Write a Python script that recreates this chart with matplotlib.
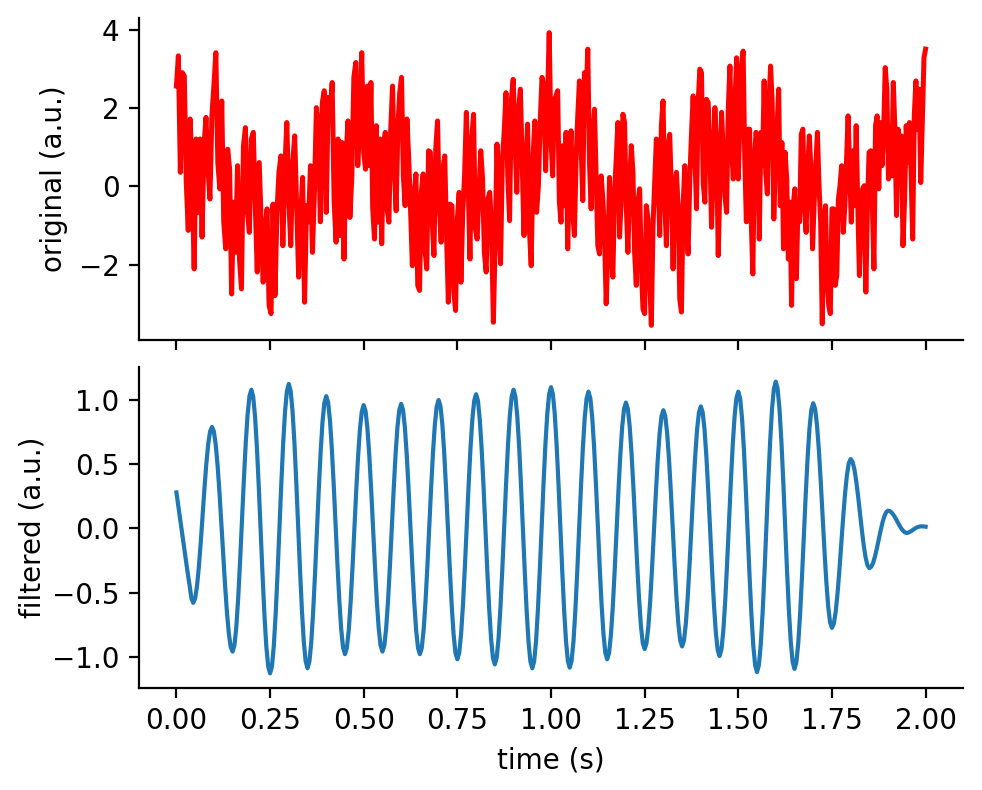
import numpy as np
import matplotlib
matplotlib.use("Agg")
import matplotlib.pyplot as plt

# ---------------- data ----------------
# original signal, four half-second segments (values in a.u.)
orig_seg1 = [2.56, 3.33, 0.36, 2.90, 2.82, 0.10, -1.12, 1.72, 0.19, -2.10,
             1.21, -0.66, 1.21, -1.29, 1.04, 1.76, 0.44, -0.32, 1.80, 2.56,
             3.41, 0.61, -0.06, 2.18, -0.90, -1.59, 0.95, 0.44, -2.74, -0.40,
             -1.68, 0.53, -1.85, -2.61, 1.04, 1.50, -0.66, -1.17, 1.21, 1.38,
             -0.49, -2.18, 0.61, -0.90, -2.44, -1.08, -0.57, -3.03, -3.24, -0.45,
             -2.78, -0.66, 0.36, 0.78, -1.51, 0.44, 1.63, -0.32, -1.51, 0.61,
             1.29, -0.49, -2.31, -0.83, 0.23, -2.95, -0.49, -0.90, 0.53, -1.68,
             -0.15, 2.01, 1.46, -0.90, 2.14, 2.44, -0.66, 2.27, 1.80, 2.65,
             -0.40, -1.42, 1.21, -1.25, 1.12, -1.85, 0.70, 1.67, -0.79, 0.27,
             2.78, 3.16, 0.53, 1.72, 3.41]
orig_seg2 = [0.87, 0.44, 2.56, 0.53, 2.65, -0.57, -1.34, 1.55, -0.91, 1.21,
             -1.46, 1.04, 1.38, -0.57, -0.91, 1.46, 2.56, 0.44, -0.62, 1.55,
             2.39, 2.78, 0.27, -0.49, 1.72, 0.70, -0.57, -2.02, -0.23, 0.32,
             -2.52, -2.65, -0.15, 0.32, -1.59, -2.10, 0.91, 0.87, -0.83, -1.76,
             0.95, 1.67, -0.49, -1.42, 0.44, 0.78, -1.25, -2.95, -0.45, -0.49,
             -2.65, -3.16, -0.83, -0.15, -2.44, -0.66, 0.27, 1.89, 0.10, -1.85,
             1.21, 1.84, -1.08, -1.34, -0.15, 0.91, 0.19, -1.68, -2.18, -0.32,
             -0.15, -1.08, -3.46, -1.42, 1.08, -0.66, -1.97, 0.70, 1.38, 2.39,
             0.27, -0.87, 2.22, 2.73, 1.21, -0.15, 1.97, 2.48, 0.61, -1.25,
             0.53, 1.59, -1.08, -2.02, 0.70, 1.67, -0.66, 0.02, 1.63, 2.78,
             2.56, 0.40, 2.06, 3.92]
orig_seg3 = [1.21, 0.27, 2.22, 2.31, 2.44, -0.40, -0.91, 1.04, -0.49, 1.38,
             -1.59, 0.53, 1.42, -0.66, -1.25, 0.70, 1.80, 2.69, 1.04, -0.36,
             2.90, 2.31, 3.50, 0.61, -0.57, 1.29, 1.97, 0.19, -1.51, -1.72,
             0.27, -0.32, -1.25, -2.99, -1.68, 0.23, -1.59, -2.31, -0.15, 0.70,
             1.63, -1.29, -0.32, 1.84, 1.63, -0.49, -1.68, 0.02, 1.04, 0.36,
             -1.68, -2.52, -0.40, -0.06, -2.02, -3.12, -3.24, -0.49, -0.83, -2.35,
             -3.54, -1.00, 0.10, 1.21, 0.44, -1.25, 1.55, 2.18, -0.32, -1.51,
             1.04, 1.33, -0.15, -2.10, -0.06, 0.36, -0.49, -2.86, -3.20, -0.49,
             0.53, -1.00, -1.72, 0.19, 1.33, 2.31, 0.87, -0.57, 2.14, 2.99,
             2.90, 0.10, -0.40, 2.22, 2.14, 0.95, -1.04, 0.44, 2.01, 1.04,
             -1.76, 0.02, 1.89, 0.87, -0.23, -0.66, 1.97, 3.07, 1.04, 0.19,
             2.14, 3.28]
orig_seg4 = [0.19, 1.72, 3.07, 3.45, 0.70, -0.90, 1.46, 1.46, -0.83, -2.23,
             0.70, 1.38, 1.04, -1.34, 1.38, 0.53, 2.69, 0.36, -0.19, 2.14,
             3.07, 2.14, -0.83, 0.61, 1.46, 2.48, -0.49, 1.12, -1.59, 0.87,
             0.19, -1.85, -0.40, -3.03, -0.49, -0.06, -2.35, -0.40, -0.90, 1.33,
             1.46, -0.49, -1.17, 0.44, 1.29, 0.44, -1.59, -0.40, 0.53, 1.38,
             0.02, -0.91, -3.50, -1.17, -0.49, -2.35, -3.03, -3.24, -0.57, -0.57,
             -2.52, -2.27, -0.32, 0.02, 0.53, -1.17, -0.49, 0.61, 1.80, 0.36,
             -0.91, 0.91, -0.49, 1.55, -0.49, -2.27, -0.83, -0.06, 0.02, -2.69,
             -0.49, 0.87, 0.91, -0.40, -2.10, 1.55, 1.80, -0.06, 1.63, 0.53,
             1.38, 3.03, 2.48, 0.19, 1.21, 0.27, 2.65, 1.46, -0.74, 1.46,
             0.36, 1.29, -1.51, -0.32, 1.55, 0.61, 1.63, 0.36, -1.34, 1.80,
             2.69, 1.46, 2.48, 0.10, 1.72, 3.28, 3.50]
seg_edges = [0.0, 0.5, 1.0, 1.5, 2.0]

# filtered signal, sampled every 5 ms from 0 to 2 s
filtered = [
    0.28, 0.175, 0.07, -0.035, -0.14, -0.245, -0.345, -0.44, -0.545, -0.58,
    -0.546, -0.449, -0.298, -0.107, 0.105, 0.317, 0.508, 0.659, 0.756, 0.79,
    0.755, 0.651, 0.488, 0.278, 0.040, -0.210, -0.448, -0.658, -0.821, -0.925, -0.96,
    -0.910, -0.765, -0.540, -0.255, 0.060, 0.375, 0.660, 0.885, 1.030, 1.08,
    1.026, 0.869, 0.625, 0.316, -0.025, -0.366, -0.675, -0.919, -1.076, -1.13,
    -1.075, -0.915, -0.666, -0.351, -0.003, 0.346, 0.661, 0.910, 1.070, 1.125,
    1.071, 0.914, 0.669, 0.360, 0.018, -0.325, -0.634, -0.879, -1.036, -1.09,
    -1.038, -0.888, -0.653, -0.358, -0.030, 0.298, 0.593, 0.828, 0.978, 1.03,
    0.981, 0.838, 0.616, 0.336, 0.025, -0.286, -0.566, -0.788, -0.931, -0.98,
    -0.932, -0.795, -0.580, -0.310, -0.010, 0.290, 0.560, 0.775, 0.912, 0.96,
    0.913, 0.777, 0.564, 0.297, 0.0, -0.297, -0.564, -0.777, -0.913, -0.96,
    -0.913, -0.776, -0.562, -0.293, 0.005, 0.303, 0.572, 0.786, 0.923, 0.97,
    0.922, 0.784, 0.568, 0.296, -0.005, -0.306, -0.578, -0.794, -0.932, -0.98,
    -0.931, -0.791, -0.572, -0.296, 0.010, 0.316, 0.592, 0.811, 0.951, 1.00,
    0.951, 0.807, 0.584, 0.302, -0.010, -0.322, -0.604, -0.827, -0.971, -1.02,
    -0.970, -0.823, -0.595, -0.307, 0.013, 0.332, 0.620, 0.848, 0.995, 1.045,
    0.994, 0.844, 0.612, 0.318, -0.008, -0.333, -0.627, -0.859, -1.009, -1.06,
    -1.008, -0.856, -0.619, -0.321, 0.010, 0.341, 0.639, 0.876, 1.028, 1.08,
    1.027, 0.873, 0.633, 0.330, -0.005, -0.340, -0.643, -0.883, -1.037, -1.09,
    -1.036, -0.881, -0.639, -0.333, 0.005, 0.343, 0.649, 0.891, 1.046, 1.10,
    1.047, 0.892, 0.650, 0.346, 0.008, -0.330, -0.635, -0.876, -1.032, -1.085,
    -1.032, -0.880, -0.642, -0.342, -0.010, 0.322, 0.622, 0.860, 1.012, 1.065,
    1.014, 0.866, 0.636, 0.345, 0.023, -0.300, -0.591, -0.821, -0.969, -1.02,
    -0.971, -0.829, -0.608, -0.329, -0.020, 0.289, 0.568, 0.789, 0.931, 0.98,
    0.933, 0.797, 0.584, 0.317, 0.020, -0.277, -0.544, -0.757, -0.893, -0.94,
    -0.894, -0.762, -0.557, -0.297, -0.010, 0.277, 0.537, 0.742, 0.874, 0.92,
    0.875, 0.744, 0.541, 0.284, 0.0, -0.284, -0.541, -0.744, -0.875, -0.92,
    -0.874, -0.741, -0.535, -0.274, 0.015, 0.304, 0.565, 0.771, 0.904, 0.95,
    0.903, 0.765, 0.550, 0.279, -0.023, -0.324, -0.595, -0.810, -0.948, -0.995,
    -0.945, -0.798, -0.571, -0.283, 0.035, 0.353, 0.641, 0.868, 1.015, 1.065,
    1.012, 0.857, 0.615, 0.311, -0.028, -0.366, -0.670, -0.912, -1.067, -1.12,
    -1.065, -0.904, -0.654, -0.339, 0.012, 0.362, 0.677, 0.927, 1.088, 1.143,
    1.088, 0.929, 0.682, 0.370, 0.024, -0.322, -0.634, -0.881, -1.040, -1.095,
    -1.044, -0.897, -0.669, -0.380, -0.060, 0.260, 0.549, 0.777, 0.924, 0.975,
    0.932, 0.808, 0.615, 0.370, 0.100, -0.170, -0.415, -0.608, -0.732, -0.775,
    -0.743, -0.650, -0.505, -0.321, -0.118, 0.086, 0.270, 0.415, 0.508, 0.54,
    0.519, 0.459, 0.365, 0.246, 0.115, -0.016, -0.135, -0.229, -0.289, -0.31,
    -0.299, -0.267, -0.218, -0.155, -0.086, -0.017, 0.046, 0.095, 0.127, 0.138,
    0.134, 0.121, 0.102, 0.078, 0.051, 0.024, 0.0, -0.019, -0.032, -0.036,
    -0.032, -0.024, -0.014, -0.004, 0.005, 0.011, 0.015, 0.016, 0.015, 0.013,
]
t_start, t_end = 0.0, 2.0

# ---------------- build time axes ----------------
segs = [orig_seg1, orig_seg2, orig_seg3, orig_seg4]
t_orig = []
y_orig = []
for i, s in enumerate(segs):
    last = (i == len(segs) - 1)
    t_orig.append(np.linspace(seg_edges[i], seg_edges[i + 1], len(s), endpoint=last))
    y_orig.extend(s)
t_orig = np.concatenate(t_orig)
y_orig = np.array(y_orig)

t_filt = np.linspace(t_start, t_end, len(filtered))
y_filt = np.array(filtered)

# ---------------- figure ----------------
fig = plt.figure(figsize=(4.91, 3.95), dpi=200)
ax1 = fig.add_axes([0.1415, 0.5696, 0.8392, 0.4076])
ax2 = fig.add_axes([0.1415, 0.1291, 0.8392, 0.4063], sharex=ax1)

ax1.plot(t_orig, y_orig, color="red", lw=1.8)
ax1.set_ylabel("original (a.u.)")
ax1.tick_params(labelbottom=False)

ax2.plot(t_filt, y_filt, color="#1f77b4", lw=1.5)
ax2.set_ylabel("filtered (a.u.)", labelpad=2)
ax2.set_xlabel("time (s)")
ax2.set_xticks([0.0, 0.25, 0.5, 0.75, 1.0, 1.25, 1.5, 1.75, 2.0])
ax2.set_yticks([-1.0, -0.5, 0.0, 0.5, 1.0])
ax1.set_yticks([-2, 0, 2, 4])

for ax in (ax1, ax2):
    ax.spines["top"].set_visible(False)
    ax.spines["right"].set_visible(False)

fig.savefig("out.png", dpi=200)
